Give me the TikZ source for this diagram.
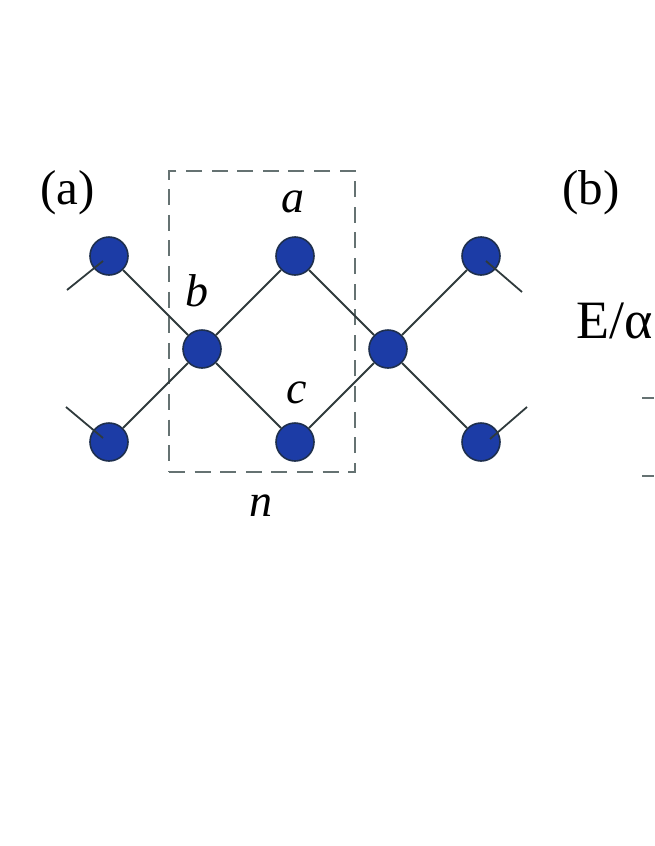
\documentclass[tikz,border=0pt]{standalone}
\usepackage{fontspec}
\setmainfont{Liberation Serif}
\definecolor{siteblue}{HTML}{1C3CA6}
\definecolor{siteedge}{HTML}{1E2F4E}
\definecolor{bondgray}{HTML}{2F3A3C}
\definecolor{cellgray}{HTML}{657272}
\begin{document}
\begin{tikzpicture}[
		x=1pt,y=-1pt,
		site/.style={circle,draw=siteedge,fill=siteblue,line width=1.6pt,minimum size=38pt,inner sep=0pt},
		bond/.style={draw=bondgray,line width=1.8pt},
		cell/.style={draw=cellgray,dash pattern=on 16pt off 9.6pt,line width=2.2pt,minimum width=186pt,minimum height=301pt,inner sep=0pt},
		panel/.style={font=\fontsize{49}{49}\selectfont,inner sep=0pt},
		atom/.style={font=\fontsize{46}{46}\selectfont\itshape,inner sep=0pt}
	]
	\useasboundingbox (0,0) rectangle (654,846);
	\node[cell] (frame) at (262,321.5) {};
	\node[site] (tl) at (109,256) {};
	\node[site] (a) at (295,256) {};
	\node[site] (tr) at (481,256) {};
	\node[site] (b) at (202,349) {};
	\node[site] (m) at (388,349) {};
	\node[site] (bl) at (109,442) {};
	\node[site] (c) at (295,442) {};
	\node[site] (br) at (481,442) {};
	\draw[bond] (tl) -- (b);
	\draw[bond] (bl) -- (b);
	\draw[bond] (a) -- (b);
	\draw[bond] (c) -- (b);
	\draw[bond] (a) -- (m);
	\draw[bond] (c) -- (m);
	\draw[bond] (tr) -- (m);
	\draw[bond] (br) -- (m);
	% loose ends
	\coordinate (tlin) at (103,261);
	\coordinate (tlout) at (67,290);
	\coordinate (blin) at (103,438);
	\coordinate (blout) at (66,407);
	\coordinate (trin) at (486,261);
	\coordinate (trout) at (522,292);
	\coordinate (brin) at (490,439);
	\coordinate (brout) at (527,407);
	\draw[bond] (tlin) -- (tlout);
	\draw[bond] (blin) -- (blout);
	\draw[bond] (trin) -- (trout);
	\draw[bond] (brin) -- (brout);
	% axis ticks
	\coordinate (tickaw) at (642,398);
	\coordinate (tickae) at (654,398);
	\coordinate (tickbw) at (642,476);
	\coordinate (tickbe) at (654,476);
	\draw[draw=cellgray,line width=1.4pt] (tickaw) -- (tickae);
	\draw[draw=cellgray,line width=1.4pt] (tickbw) -- (tickbe);
	% labels
	\node[panel] (panela) at (67.5,193) {(a)};
	\node[panel] (panelb) at (591,193) {(b)};
	\node[panel,font=\fontsize{54}{54}\selectfont] (energy) at (614.5,321) {E/\(\mathrm{\symbol{"03B1}}\)};
	\node[atom] (laba) at (293,202) {a};
	\node[atom] (labb) at (196.5,291) {b};
	\node[atom] (labc) at (297,393) {c};
	\node[atom] (labn) at (261,506) {n};
\end{tikzpicture}
\end{document}
